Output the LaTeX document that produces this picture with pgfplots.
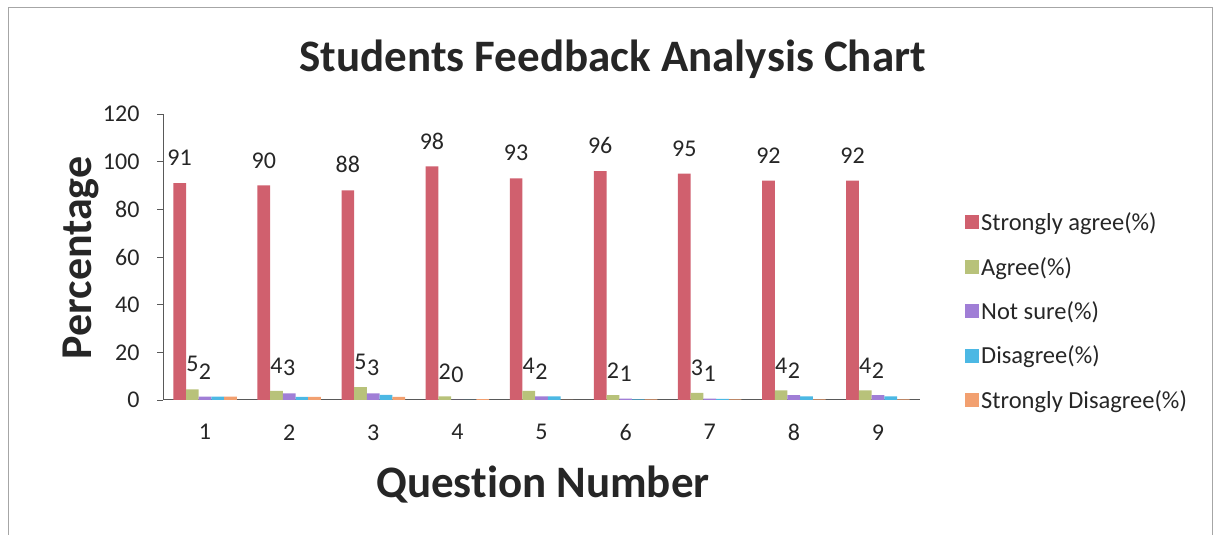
\documentclass[border=0pt]{standalone}
\usepackage{pgfplots}
\pgfplotsset{compat=1.18}
\usepackage{pgfplotstable}
\usepackage{fontspec}
\setmainfont{Carlito}[Ligatures=NoCommon]
\definecolor{cSA}{HTML}{D0606E}
\definecolor{cA}{HTML}{B8C27A}
\definecolor{cNS}{HTML}{A07ED6}
\definecolor{cD}{HTML}{4CB8E4}
\definecolor{cSD}{HTML}{F2A070}
\definecolor{txt}{HTML}{262626}
\pgfplotstableread{
q  sa sal a   al ns  nsl d   sd
1  91 91  4.5 5  1.4 2   1.4 1.4
2  90 90  3.8 4  2.8 3   1.3 1.3
3  88 88  5.4 5  2.8 3   2.1 1.3
4  98 98  1.5 2  0.1 0   0.1 0.4
5  93 93  3.8 4  1.5 2   1.5 0.1
6  96 96  2.0 2  0.6 1   0.3 0.3
7  95 95  3.0 3  0.6 1   0.5 0.3
8  92 92  4.0 4  2.0 2   1.5 0.3
9  92 92  4.0 4  2.0 2   1.5 0.3
}\data
\begin{document}
\begin{tikzpicture}
\path[use as bounding box] (0,0) rectangle (1215pt,535pt);
\draw[gray!70, line width=1pt] (8pt,0pt) -- (8pt,527pt) -- (1212pt,527pt) -- (1212pt,0pt);
\begin{axis}[
  at={(163pt,135pt)}, anchor=south west,
  scale only axis, width=757pt, height=286pt,
  ybar=0pt, bar width=12.7pt,
  xmin=0.5, xmax=9.5, ymin=0, ymax=120,
  xtick={1,...,9}, ytick={0,20,...,120},
  axis x line*=bottom, axis y line*=left,
  axis line style={draw=black!65, line width=1pt},
  x tick style={draw=none},
  y tick style={draw=black!65, line width=0.8pt},
  tick align=outside, major tick length=6pt,
  tick label style={font=\fontsize{24}{28}\selectfont, text=txt},
  /pgf/number format/assume math mode=true,
  yticklabel style={xshift=-14pt},
  xticklabel style={yshift=-15pt},
  title={Students Feedback Analysis Chart},
  title style={at={(0.594,1.127)}, anchor=base, font=\fontsize{45}{54}\selectfont\bfseries, text=txt},
  xlabel={Question Number},
  xlabel style={at={(0.502,-0.342)}, anchor=base, font=\fontsize{45}{54}\selectfont\bfseries, text=txt},
  ylabel={Percentage},
  ylabel style={at={(-0.094,0.497)}, anchor=base, font=\fontsize{44}{52}\selectfont\bfseries, text=txt},
  legend style={at={(1.0555,0.31)}, anchor=west, draw=none, fill=none,
    font=\fontsize{24.5}{29}\selectfont, text=txt, row sep=21pt},
  legend cell align=left,
  legend image code/.code={\fill[#1] (-4pt,-7pt) rectangle (10pt,7pt);},
  nodes near coords style={inner sep=0pt, yshift=17pt, font=\fontsize{24}{28}\selectfont, text=txt},
]
\addplot[fill=cSA, draw=none, nodes near coords, point meta=explicit symbolic] table[x=q, y=sa, meta=sal] {\data};
\addplot[fill=cA, draw=none, nodes near coords, point meta=explicit symbolic] table[x=q, y=a, meta=al] {\data};
\addplot[fill=cNS, draw=none, nodes near coords, point meta=explicit symbolic] table[x=q, y=ns, meta=nsl] {\data};
\addplot[fill=cD, draw=none] table[x=q, y=d] {\data};
\addplot[fill=cSD, draw=none] table[x=q, y=sd] {\data};
\legend{Strongly agree(\%), Agree(\%), Not sure(\%), Disagree(\%), Strongly Disagree(\%)}
\end{axis}
\end{tikzpicture}
\end{document}
